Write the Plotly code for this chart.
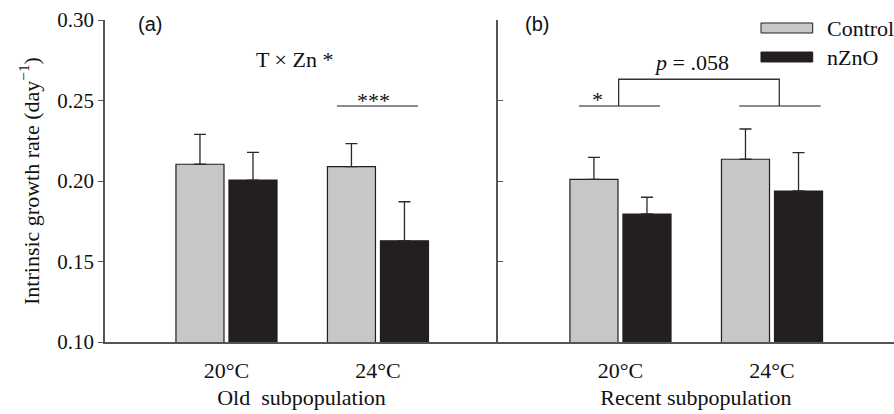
import plotly.graph_objects as go

temps = ["20°C", "24°C"]
old_control = [0.2104, 0.2089]
old_control_se = [0.0186, 0.0143]
old_nzno = [0.2006, 0.1629]
old_nzno_se = [0.0172, 0.0242]
rec_control = [0.2010, 0.2135]
rec_control_se = [0.0137, 0.0188]
rec_nzno = [0.1795, 0.1938]
rec_nzno_se = [0.0104, 0.0238]
yticks = [0.10, 0.15, 0.20, 0.25, 0.30]

GRAY = "#c6c7c9"
BLACK = "#231f20"
SERIF = "Liberation Serif"
SANS = "Liberation Sans"
xpos = [0, 1]

fig = go.Figure()

def add_bars(vals, se, color, name, xa, ya):
    fig.add_trace(go.Bar(
        x=xpos, y=vals, name=name, marker=dict(color=color, line=dict(color=BLACK, width=1.2)),
        error_y=dict(type="data", symmetric=False, array=se, arrayminus=[0] * len(se),
                     color="#2a2a2a", thickness=1.3, width=6),
        xaxis=xa, yaxis=ya, showlegend=False, offsetgroup=name, hoverinfo="skip"))

add_bars(old_control, old_control_se, GRAY, "Control", "x", "y")
add_bars(old_nzno, old_nzno_se, BLACK, "nZnO", "x", "y")
add_bars(rec_control, rec_control_se, GRAY, "Control", "x2", "y2")
add_bars(rec_nzno, rec_nzno_se, BLACK, "nZnO", "x2", "y2")

axis_line = "#555555"
common_x = dict(tickvals=xpos, ticktext=temps, ticks="", showgrid=False, zeroline=False,
                showline=True, linecolor=axis_line, linewidth=1.5,
                tickfont=dict(family=SERIF, size=22, color="#111"), ticklabelstandoff=8)

fig.update_layout(
    width=894, height=414,
    margin=dict(l=105, r=0, t=20, b=72),
    paper_bgcolor="white", plot_bgcolor="white",
    barmode="group", bargap=0.3, bargroupgap=0.094,
    showlegend=False,
    xaxis=dict(domain=[0, 0.498], range=[-0.802, 1.792],
               title=dict(text="Old  subpopulation", font=dict(family=SERIF, size=22, color="#111"), standoff=7),
               **common_x),
    xaxis2=dict(domain=[0.498, 1], range=[-0.8086, 1.805],
                title=dict(text="Recent subpopulation", font=dict(family=SERIF, size=22, color="#111"), standoff=7),
                **common_x),
    yaxis=dict(range=[0.10, 0.30], tickvals=yticks, ticktext=["%.2f" % v for v in yticks],
               ticks="outside", ticklen=5, tickcolor=axis_line, showgrid=False, zeroline=False,
               showline=True, linecolor=axis_line, linewidth=1.5,
               tickfont=dict(family=SERIF, size=21, color="#111"),
               title=dict(text="Intrinsic growth rate (day<sup>−1</sup>)",
                          font=dict(family=SERIF, size=22, color="#111"), standoff=12)),
    yaxis2=dict(range=[0.10, 0.30], anchor="x2", tickvals=yticks, showticklabels=False,
                ticks="inside", ticklen=5, tickcolor=axis_line, showgrid=False, zeroline=False,
                showline=True, linecolor=axis_line, linewidth=1.5),
)

line_col = "#666666"
shapes = [
    dict(type="line", xref="x", yref="y", x0=0.729, x1=1.264, y0=0.2466, y1=0.2466, line=dict(color=line_col, width=1.5)),
    dict(type="line", xref="x2", yref="y2", x0=-0.274, x1=0.261, y0=0.2466, y1=0.2466, line=dict(color=line_col, width=1.5)),
    dict(type="line", xref="x2", yref="y2", x0=0.784, x1=1.321, y0=0.2466, y1=0.2466, line=dict(color=line_col, width=1.5)),
    dict(type="path", xref="x2", yref="y2",
         path="M -0.012,0.2466 L -0.012,0.2632 L 1.048,0.2632 L 1.048,0.2466",
         line=dict(color="#333", width=1.3)),
    dict(type="rect", xref="paper", yref="paper", x0=0.8314, x1=0.897, y0=0.9596, y1=0.9907,
         fillcolor=GRAY, line=dict(color=BLACK, width=1)),
    dict(type="rect", xref="paper", yref="paper", x0=0.8314, x1=0.897, y0=0.8696, y1=0.9006,
         fillcolor=BLACK, line=dict(color=BLACK, width=1)),
]
fig.update_layout(shapes=shapes)

tf = dict(family=SERIF, size=22, color="#111")
ann = [
    dict(text="(a)", xref="paper", yref="paper", x=0.0393, y=0.9876, font=dict(family=SANS, size=20, color="#111")),
    dict(text="(b)", xref="paper", yref="paper", x=0.548, y=0.9876, font=dict(family=SANS, size=20, color="#111")),
    dict(text="T × Zn *", xref="x", yref="y", x=0.452, y=0.2752, font=tf),
    dict(text="***", xref="x", yref="y", x=0.97, y=0.2500, font=tf),
    dict(text="*", xref="x2", yref="y2", x=-0.149, y=0.2505, font=tf),
    dict(text="<i>p</i> = .058", xref="x2", yref="y2", x=0.469, y=0.2733, font=tf),
    dict(text="Control", xref="paper", yref="paper", x=0.9125, y=0.975, xanchor="left", font=tf),
    dict(text="nZnO", xref="paper", yref="paper", x=0.9125, y=0.885, xanchor="left", font=tf),
]
for a in ann:
    a.setdefault("showarrow", False)
    a.setdefault("yanchor", "middle")
fig.update_layout(annotations=ann)

fig.write_html("out.html", config={"displayModeBar": False},
               post_script="document.body.style.margin='0';document.body.style.overflow='hidden';")
